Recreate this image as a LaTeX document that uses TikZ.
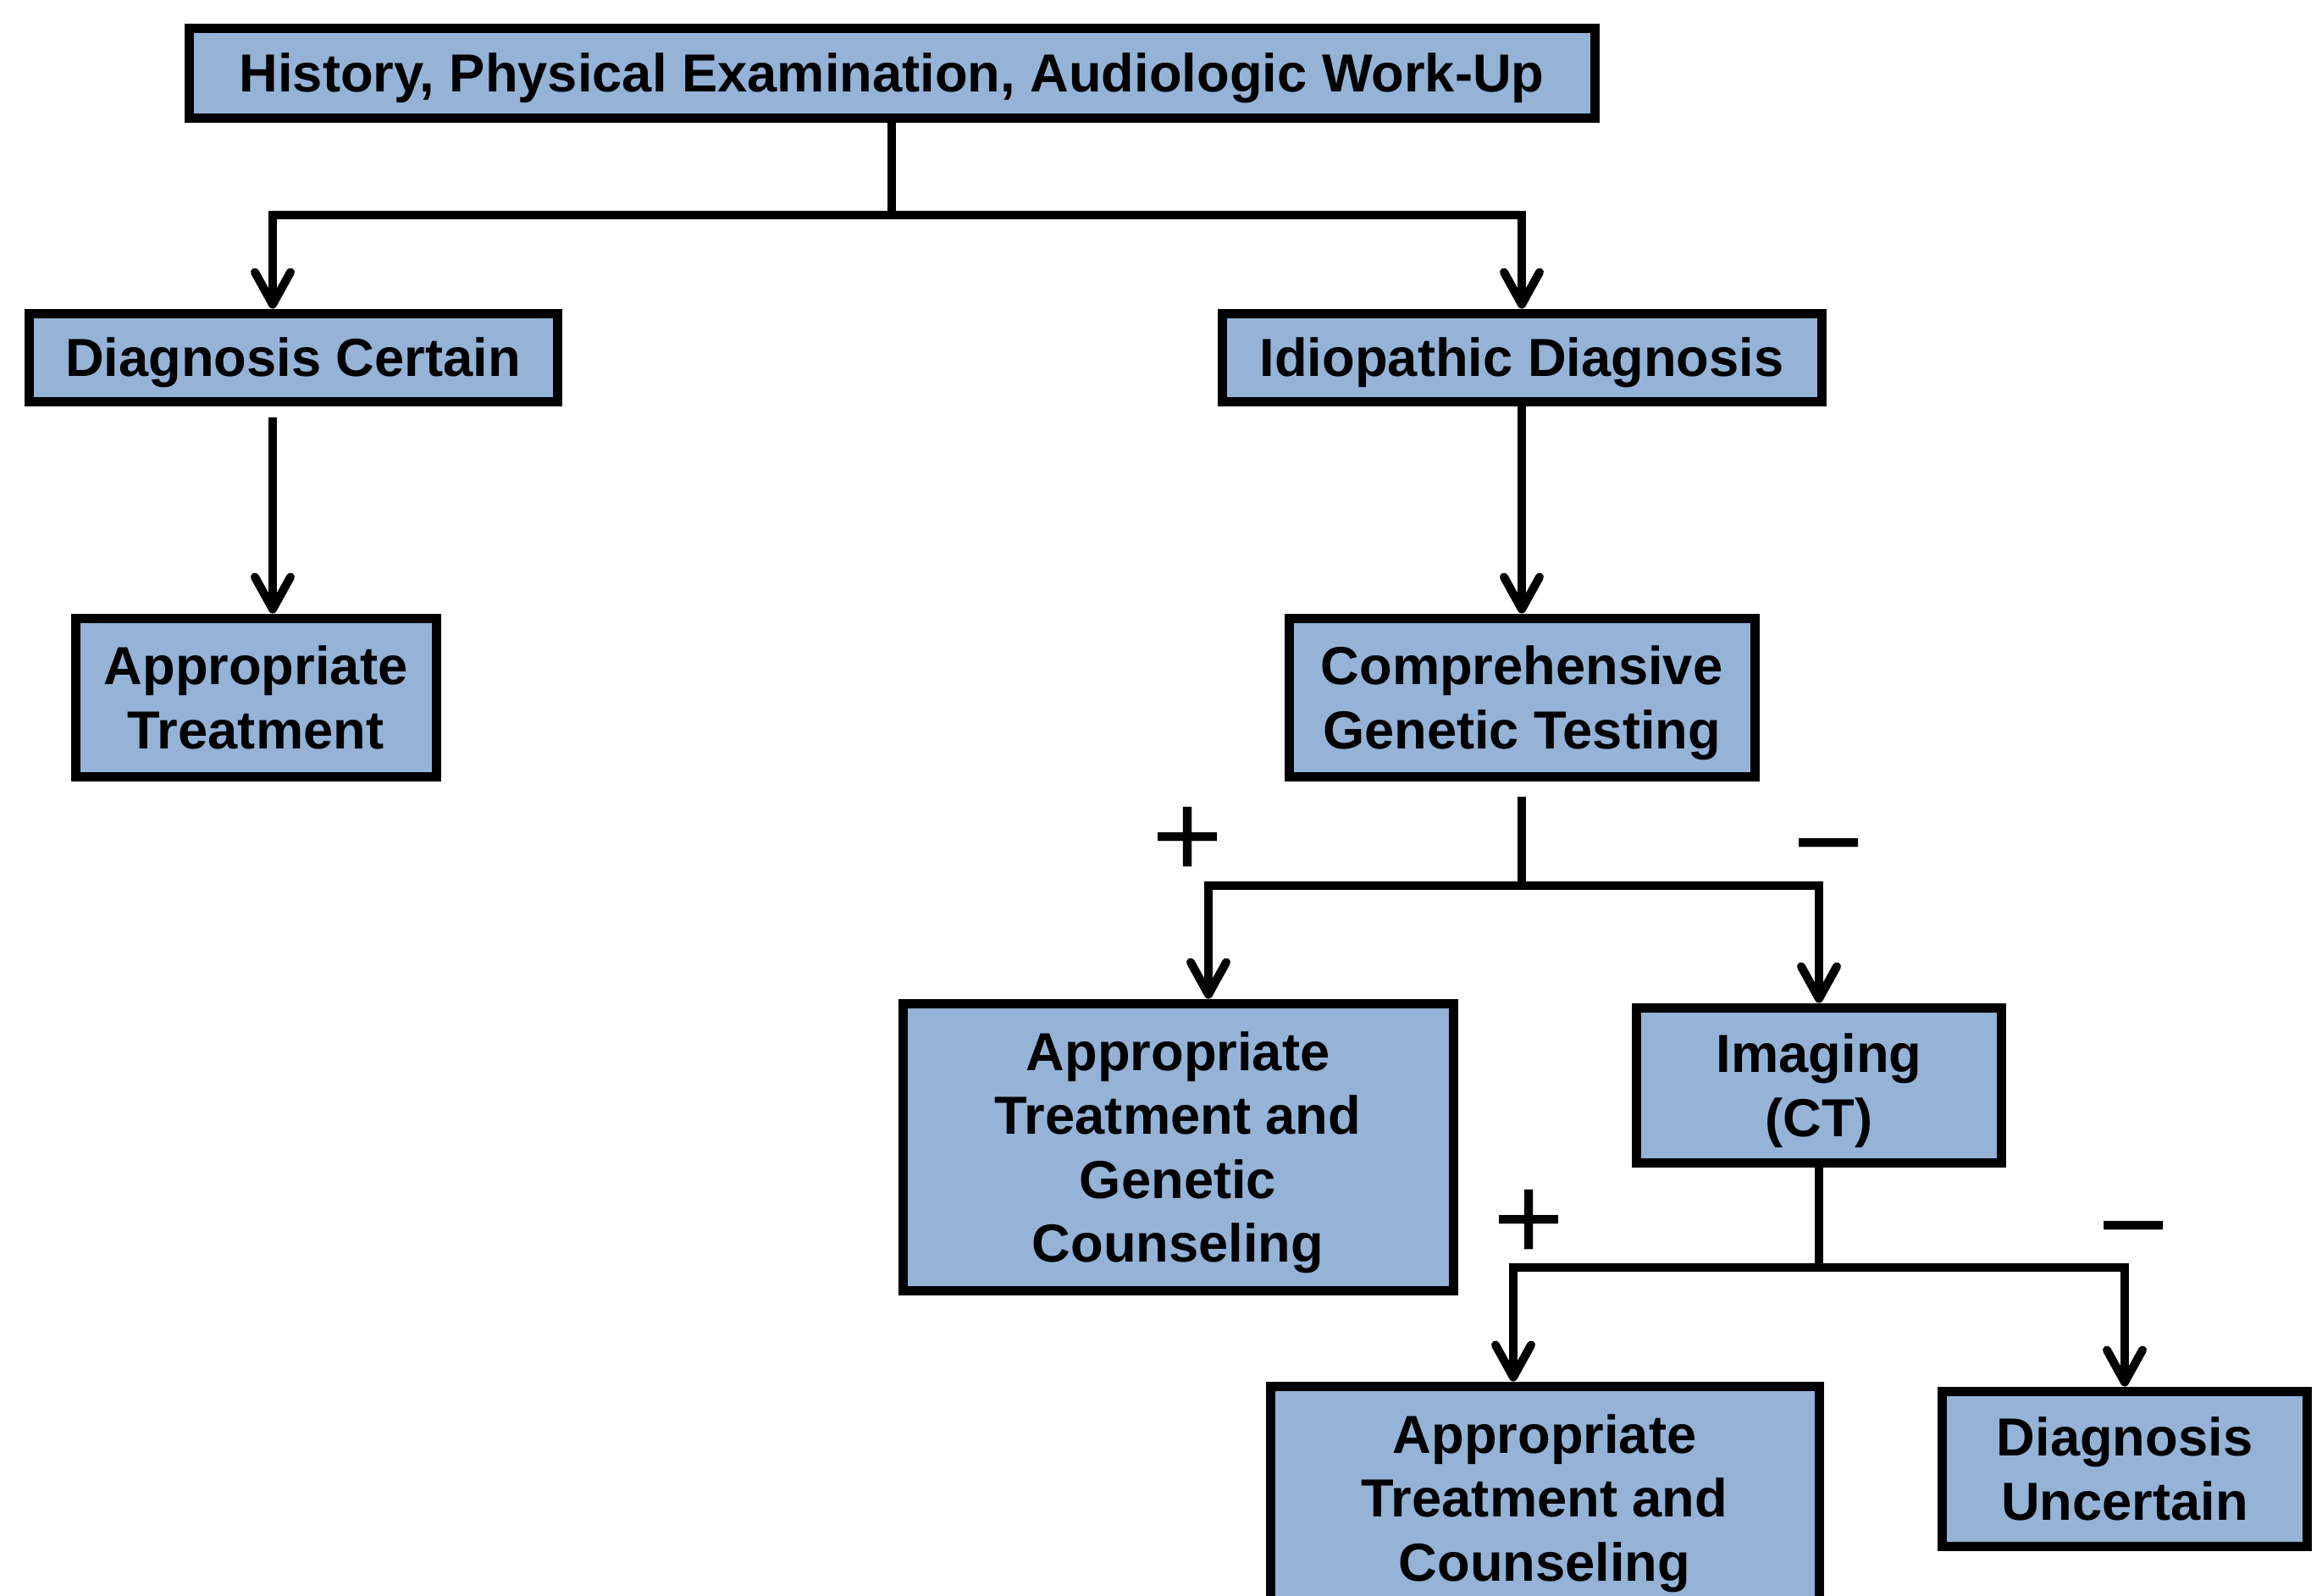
\documentclass[tikz,border=0pt]{standalone}
\usepackage{fontspec}
\setmainfont{Liberation Sans}
\usetikzlibrary{arrows.meta}
\definecolor{boxblue}{RGB}{149,179,215}

\begin{document}
\begin{tikzpicture}[
    box/.style = {draw, line width=0.11cm, fill=boxblue, inner sep=0pt, align=center,
                  text depth=0pt, font=\fontsize{18}{21.5}\selectfont\bfseries},
    link/.style = {line width=0.1cm},
    arrow/.style = {link, -{Straight Barb[length=0.38cm,width=0.42cm,round]}},
    sign/.style = {font=\fontsize{41}{41}\selectfont, inner sep=0pt, anchor=base}]
 \useasboundingbox (0,0) rectangle (27.42,-18.84);
 \clip (0,0) rectangle (27.42,-18.84);
 \node[box, minimum width=16.6cm, minimum height=1.06cm] (hist) at (10.53,-0.86) {History, Physical Examination, Audiologic Work-Up};
 \node[box, minimum width=6.24cm, minimum height=1.04cm] (certain) at (3.46,-4.22) {Diagnosis Certain};
 \node[box, minimum width=4.26cm, minimum height=1.87cm] (treat) at (3.02,-8.235) {Appropriate\\Treatment};
 \node[box, minimum width=7.08cm, minimum height=1.04cm] (idio) at (17.97,-4.22) {Idiopathic Diagnosis};
 \node[box, minimum width=5.5cm, minimum height=1.87cm] (genetic) at (17.97,-8.235) {Comprehensive\\Genetic Testing};
 \node[box, minimum width=6.5cm, minimum height=3.39cm] (treatgc) at (13.91,-13.545) {Appropriate\\Treatment and\\Genetic\\Counseling};
 \node[box, minimum width=4.31cm, minimum height=1.83cm] (imaging) at (21.48,-12.815) {Imaging\\(CT)};
 \node[box, minimum width=6.48cm, minimum height=2.64cm] (treatc) at (18.24,-17.69) {Appropriate\\Treatment and\\Counseling};
 \node[box, minimum width=4.31cm, minimum height=1.83cm] (uncertain) at (25.09,-17.345) {Diagnosis\\Uncertain};

 \draw[link] (hist.south) -- ++(0,-1.095) coordinate (fork1);
 \draw[arrow] (fork1) -| ([xshift=-0.24cm]certain.north);
 \draw[arrow] (fork1) -| (idio.north);
 \draw[arrow, shorten <=0.13cm] ([xshift=-0.24cm]certain.south) -- ([xshift=0.2cm]treat.north);
 \draw[arrow] (idio.south) -- (genetic.north);

 \draw[link, shorten <=0.18cm] (genetic.south) -- ++(0,-1.23) coordinate (fork2);
 \draw[arrow] (fork2) -| ([xshift=0.36cm]treatgc.north);
 \draw[arrow] (fork2) -| (imaging.north);
 \node[sign] (pos1) at (14.03,-10.36) {+};
 \node[sign] (neg1) at (21.60,-10.43) {−};

 \draw[link] (imaging.south) -- ++(0,-1.185) coordinate (fork3);
 \draw[arrow] (fork3) -| ([xshift=-0.37cm]treatc.north);
 \draw[arrow] (fork3) -| (uncertain.north);
 \node[sign] (pos2) at (18.06,-14.88) {+};
 \node[sign] (neg2) at (25.20,-14.95) {−};
\end{tikzpicture}
\end{document}
